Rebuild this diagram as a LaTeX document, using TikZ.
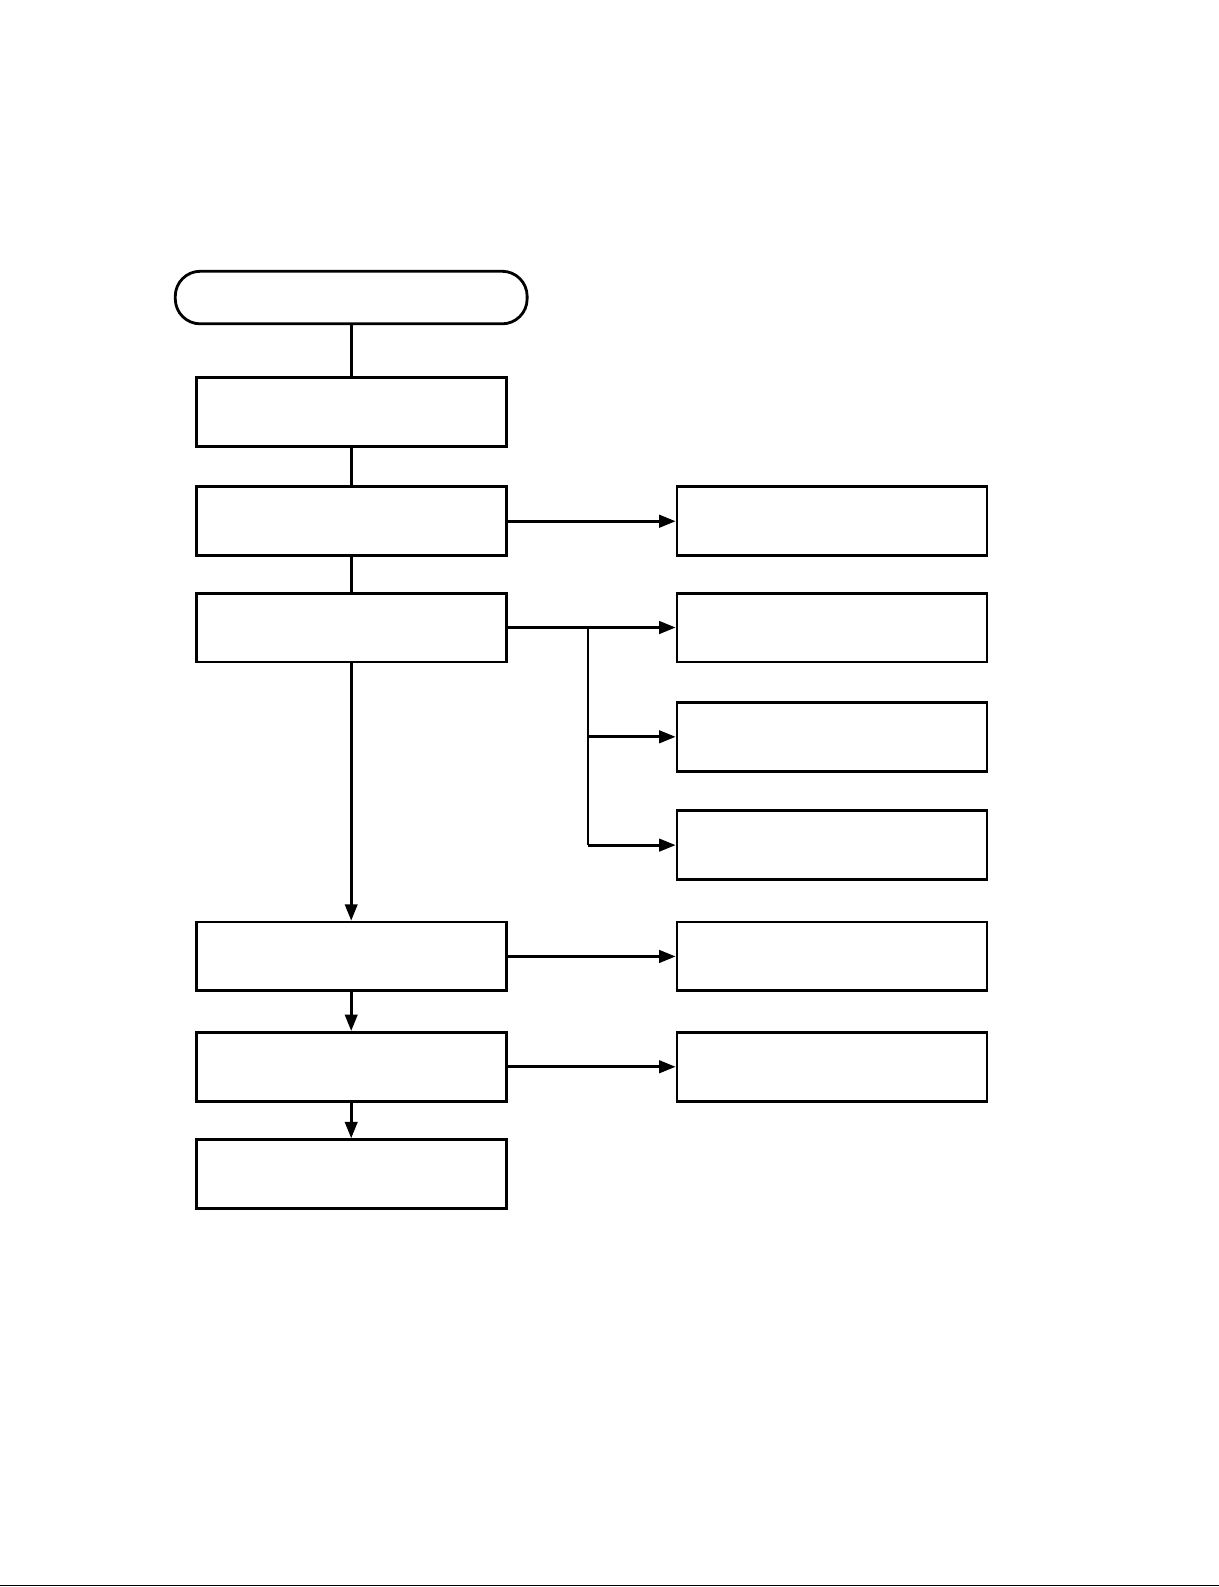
\documentclass[tikz,border=0pt]{standalone}
\usepackage{tikz}
\usetikzlibrary{arrows.meta,shapes}

\begin{document}
\begin{tikzpicture}[x=0.50625pt,y=-0.50625pt,>={Triangle[length=8.2pt,width=6.2pt]}]

\tikzstyle{term}=[rectangle,draw=black,line width=1.4pt,
	rounded corners=12.5pt,minimum width=176pt,minimum height=26.3pt]

\tikzstyle{step box}=[rectangle,draw=black,line width=1.4pt,
	minimum width=155pt,minimum height=34.4pt]

\tikzstyle{link}=[-,line width=1.4pt]
\tikzstyle{flow}=[->,line width=1.4pt]

  \useasboundingbox (0,0) rectangle (1204,1568);

  %% main column
  \node  (start) at (347,294)    [term]     {};
  \node  (b1)    at (347,407)    [step box] {};
  \node  (b2)    at (347,515)    [step box] {};
  \node  (b3)    at (347,620)    [step box] {};
  \node  (b4)    at (347,945)    [step box] {};
  \node  (b5)    at (347,1054)   [step box] {};
  \node  (b6)    at (347,1160)   [step box] {};

  %% right column
  \node  (r1)    at (822,515)    [step box] {};
  \node  (r2)    at (822,620)    [step box] {};
  \node  (r3)    at (822,728)    [step box] {};
  \node  (r4)    at (822,835)    [step box] {};
  \node  (r5)    at (822,945)    [step box] {};
  \node  (r6)    at (822,1054)   [step box] {};

  \node  (fork)  at (581,620)    [coordinate] {};
  \node  (fork3) at (581,728)    [coordinate] {};
  \node  (fork4) at (581,835)    [coordinate] {};

  \path (start) edge [link] (b1)
        (b1)    edge [link] (b2)
        (b2)    edge [link] (b3)
        (b3)    edge [flow] (b4)
        (b4)    edge [flow] (b5)
        (b5)    edge [flow] (b6)

        (b2)    edge [flow] (r1)
        (b3)    edge [flow] (r2)
        (b4)    edge [flow] (r5)
        (b5)    edge [flow] (r6)

        (fork)  edge [link] (fork4)
        (fork3) edge [flow] (r3)
        (fork4) edge [flow] (r4);

  %% page edge
  \draw [line width=0.6pt] (0,1566.5) -- (1204,1566.5);

\end{tikzpicture}
\end{document}
